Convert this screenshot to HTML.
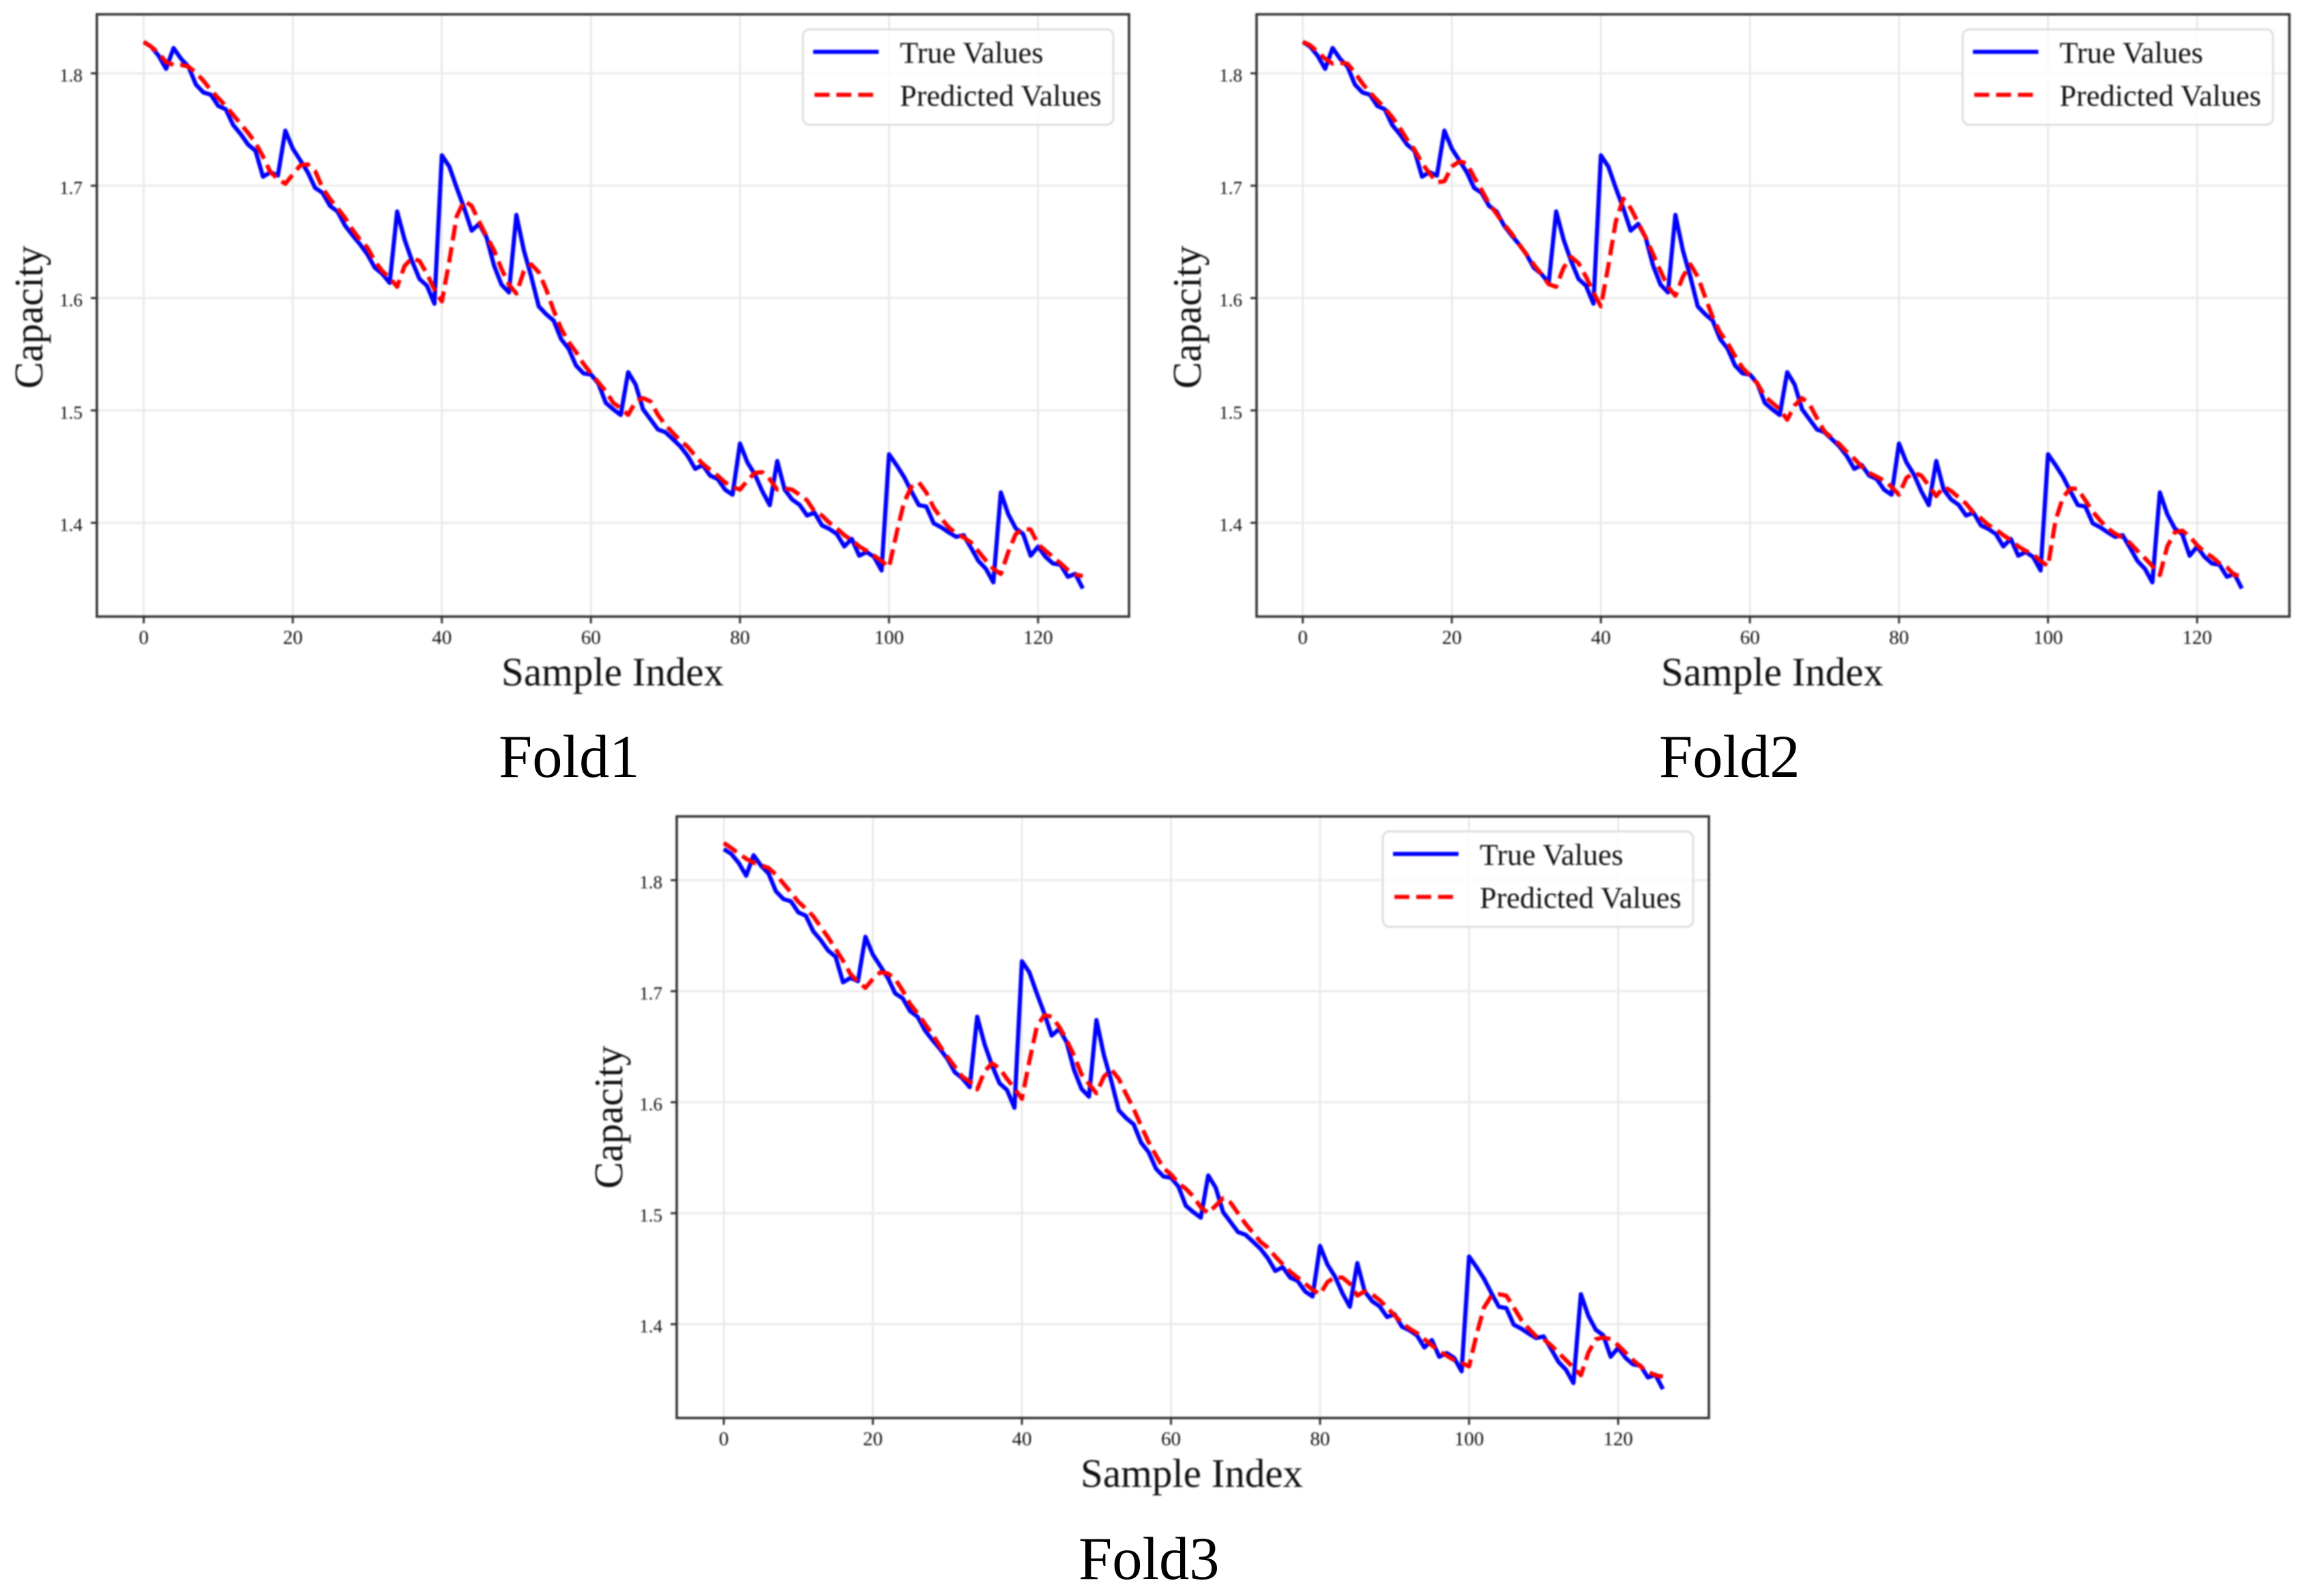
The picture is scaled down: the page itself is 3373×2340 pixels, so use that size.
<!DOCTYPE html>
<html lang="en">
<head>
<meta charset="utf-8">
<title>Capacity prediction by fold</title>
<style>
  html, body { margin: 0; padding: 0; background: #ffffff; }
  #figure { display: block; width: 3373px; height: 2340px; background: #ffffff; }
  text { font-family: "Liberation Serif", "Times New Roman", serif; fill: #111111; }
  .soft { filter: blur(1.1px); }
</style>
</head>
<body>
<svg id="figure" xmlns="http://www.w3.org/2000/svg" width="3373" height="2340" viewBox="0 0 3373 2340"></svg>
<script>
const xTickLabels = [0, 20, 40, 60, 80, 100, 120];
const yTickLabels = [1.4, 1.5, 1.6, 1.7, 1.8];

const trueValues = [
  1.828, 1.8237, 1.8156, 1.804, 1.8225, 1.813, 1.806, 1.790, 1.783, 1.781,
  1.771, 1.768, 1.754, 1.746, 1.7366, 1.731, 1.708, 1.712, 1.709, 1.749,
  1.733, 1.7226, 1.712, 1.698, 1.6936, 1.682, 1.677, 1.6646, 1.656, 1.648,
  1.639, 1.627, 1.6216, 1.6135, 1.677, 1.652, 1.633, 1.617, 1.611, 1.595,
  1.727, 1.717, 1.698, 1.680, 1.660, 1.666, 1.654, 1.629, 1.612, 1.605,
  1.674, 1.6425, 1.619, 1.5926, 1.5856, 1.580, 1.5635, 1.555, 1.540, 1.533,
  1.532, 1.524, 1.5067, 1.501, 1.496, 1.534, 1.523, 1.501, 1.492, 1.483,
  1.4806, 1.4744, 1.468, 1.4594, 1.448, 1.4514, 1.442, 1.439, 1.4295, 1.425,
  1.4705, 1.4537, 1.443, 1.428, 1.4157, 1.455, 1.4295, 1.4207, 1.416, 1.4065,
  1.409, 1.3977, 1.3945, 1.390, 1.379, 1.3857, 1.3707, 1.374, 1.3696, 1.3576,
  1.461, 1.4514, 1.441, 1.428, 1.4157, 1.4145, 1.3995, 1.396, 1.3915, 1.3875,
  1.389, 1.3777, 1.366, 1.359, 1.347, 1.427, 1.4076, 1.395, 1.390, 1.3707,
  1.3788, 1.3696, 1.3638, 1.3627, 1.352, 1.3545, 1.3415
];

const predictedFold1 = [
  1.828, 1.8237, 1.818, 1.810, 1.8075, 1.8075, 1.806, 1.8005, 1.7935, 1.785,
  1.778, 1.771, 1.763, 1.755, 1.747, 1.738, 1.726, 1.712, 1.706, 1.7017,
  1.710, 1.718, 1.719, 1.713, 1.698, 1.688, 1.680, 1.6715, 1.661, 1.652,
  1.645, 1.633, 1.624, 1.618, 1.610, 1.6286, 1.6355, 1.633, 1.6216, 1.6077,
  1.597, 1.633, 1.673, 1.6866, 1.682, 1.668, 1.655, 1.6425, 1.626, 1.612,
  1.604, 1.624, 1.630, 1.623, 1.6077, 1.589, 1.5728, 1.561, 1.552, 1.5415,
  1.533, 1.525, 1.517, 1.5067, 1.502, 1.496, 1.508, 1.511, 1.508, 1.496,
  1.487, 1.480, 1.473, 1.4675, 1.4594, 1.4525, 1.447, 1.442, 1.436, 1.432,
  1.4295, 1.4376, 1.4445, 1.445, 1.4387, 1.4295, 1.4306, 1.4295, 1.425, 1.420,
  1.410, 1.4065, 1.400, 1.395, 1.389, 1.3846, 1.379, 1.375, 1.3707, 1.366,
  1.3604, 1.3903, 1.418, 1.432, 1.436, 1.427, 1.4134, 1.404, 1.396, 1.3905,
  1.387, 1.3825, 1.3745, 1.3664, 1.359, 1.3544, 1.374, 1.390, 1.3945, 1.394,
  1.381, 1.375, 1.3696, 1.364, 1.358, 1.354, 1.3525
];

const predictedFold2 = [
  1.828, 1.825, 1.819, 1.813, 1.8086, 1.8093, 1.8086, 1.8005, 1.791, 1.783,
  1.776, 1.769, 1.761, 1.7517, 1.741, 1.732, 1.720, 1.711, 1.703, 1.704,
  1.717, 1.7215, 1.720, 1.7075, 1.696, 1.684, 1.675, 1.6657, 1.6576, 1.648,
  1.639, 1.6297, 1.6216, 1.6123, 1.610, 1.627, 1.6367, 1.631, 1.619, 1.605,
  1.5926, 1.6286, 1.668, 1.6885, 1.680, 1.667, 1.654, 1.639, 1.624, 1.610,
  1.602, 1.619, 1.630, 1.619, 1.6007, 1.583, 1.5693, 1.560, 1.5484, 1.538,
  1.531, 1.524, 1.5124, 1.5067, 1.501, 1.4917, 1.5044, 1.511, 1.5055, 1.493,
  1.4813, 1.4756, 1.470, 1.463, 1.457, 1.450, 1.4445, 1.441, 1.4376, 1.432,
  1.425, 1.440, 1.4445, 1.442, 1.433, 1.4237, 1.432, 1.4283, 1.4226, 1.417,
  1.409, 1.404, 1.398, 1.394, 1.389, 1.3846, 1.379, 1.375, 1.372, 1.366,
  1.3615, 1.402, 1.4226, 1.4306, 1.430, 1.420, 1.410, 1.402, 1.395, 1.3903,
  1.387, 1.382, 1.375, 1.3685, 1.3615, 1.3535, 1.379, 1.3915, 1.393, 1.388,
  1.380, 1.374, 1.3696, 1.364, 1.3604, 1.3535, 1.353
];

const predictedFold3 = [
  1.8335, 1.829, 1.824, 1.8193, 1.8158, 1.8134, 1.811, 1.805, 1.797, 1.789,
  1.7805, 1.7745, 1.7675, 1.758, 1.7485, 1.738, 1.7275, 1.7155, 1.7085, 1.703,
  1.711, 1.717, 1.716, 1.711, 1.7005, 1.6885, 1.680, 1.6705, 1.661, 1.6505,
  1.641, 1.632, 1.623, 1.6185, 1.6115, 1.628, 1.635, 1.6305, 1.621, 1.6125,
  1.603, 1.637, 1.668, 1.6785, 1.677, 1.668, 1.656, 1.642, 1.625, 1.6165,
  1.608, 1.623, 1.6295, 1.621, 1.607, 1.594, 1.5785, 1.564, 1.552, 1.5405,
  1.535, 1.527, 1.522, 1.515, 1.5054, 1.500, 1.5068, 1.5135, 1.5095, 1.500,
  1.4905, 1.4824, 1.4743, 1.469, 1.461, 1.454, 1.4473, 1.442, 1.4365, 1.431,
  1.427, 1.438, 1.4424, 1.442, 1.4365, 1.4257, 1.4297, 1.427, 1.4216, 1.415,
  1.408, 1.401, 1.396, 1.392, 1.3865, 1.381, 1.3757, 1.3716, 1.3676, 1.365,
  1.362, 1.3905, 1.415, 1.4257, 1.427, 1.4257, 1.415, 1.404, 1.396, 1.389,
  1.3865, 1.381, 1.3743, 1.3676, 1.361, 1.354, 1.3743, 1.3865, 1.388, 1.3865,
  1.381, 1.3743, 1.3676, 1.362, 1.357, 1.354, 1.3527
];

const SVG_NS = 'http://www.w3.org/2000/svg';
const figure = document.getElementById('figure');

function make(parent, tag, props, content) {
  const node = document.createElementNS(SVG_NS, tag);
  for (const key in props) {
    node.setAttribute(key, props[key]);
  }
  if (content !== undefined) {
    node.textContent = content;
  }
  parent.appendChild(node);
  return node;
}

function pointsFor(values, xScale, yScale) {
  return values.map(function (v, i) {
    return xScale(i).toFixed(2) + ',' + yScale(v).toFixed(2);
  }).join(' ');
}

function drawPanel(foldKey, predicted, box) {
  const xScale = function (v) { return box.x0 + v * box.xUnit; };
  const yScale = function (v) { return box.y18 + (1.8 - v) * box.yUnit; };

  const panel = make(figure, 'g', { 'class': 'soft' });
  
  

  const plotBackground = make(panel, 'rect', {
    x: box.left, y: box.top, width: box.right - box.left, height: box.bottom - box.top, fill: '#ffffff'
  });
  
  

  xTickLabels.forEach(function (t) {
    const gridX = make(panel, 'line', {
      x1: xScale(t), x2: xScale(t), y1: box.top, y2: box.bottom, stroke: '#e6e6e6', 'stroke-width': 2.5
    });
    
    
  });

  yTickLabels.forEach(function (t) {
    const gridY = make(panel, 'line', {
      x1: box.left, x2: box.right, y1: yScale(t), y2: yScale(t), stroke: '#ebebeb', 'stroke-width': 3
    });
    
    
  });

  const trueLine = make(panel, 'polyline', {
    points: pointsFor(trueValues, xScale, yScale),
    fill: 'none', stroke: '#0000ff', 'stroke-width': 6.2, 'stroke-linejoin': 'round'
  });
  
  

  const predictedLine = make(panel, 'polyline', {
    points: pointsFor(predicted, xScale, yScale),
    fill: 'none', stroke: '#ff0000', 'stroke-width': 6.2, 'stroke-dasharray': '23 10', 'stroke-linejoin': 'round'
  });
  
  

  const frame = make(panel, 'rect', {
    x: box.left, y: box.top, width: box.right - box.left, height: box.bottom - box.top,
    fill: 'none', stroke: '#333333', 'stroke-width': 3.5
  });
  
  

  xTickLabels.forEach(function (t) {
    const tick = make(panel, 'line', {
      x1: xScale(t), x2: xScale(t), y1: box.bottom, y2: box.bottom + 10, stroke: '#333333', 'stroke-width': 3
    });
    
    
    const label = make(panel, 'text', {
      x: xScale(t), y: box.bottom + 40, 'font-size': 29, 'text-anchor': 'middle'
    }, String(t));
    
    
  });

  yTickLabels.forEach(function (t) {
    const tick = make(panel, 'line', {
      x1: box.left - 9, x2: box.left, y1: yScale(t), y2: yScale(t), stroke: '#333333', 'stroke-width': 3
    });
    
    
    const label = make(panel, 'text', {
      x: box.left - 21, y: yScale(t) + 12, 'font-size': 27, 'text-anchor': 'end'
    }, t.toFixed(1));
    
    
  });

  const xTitle = make(panel, 'text', {
    x: box.xTitleX, y: box.bottom + 101, 'font-size': 59
  }, 'Sample Index');
  
  

  const yTitle = make(panel, 'text', {
    transform: 'translate(' + box.yTitleX + ' ' + box.yTitleY + ') rotate(-90)',
    'font-size': 59, 'text-anchor': 'middle'
  }, 'Capacity');
  
  

  const legend = make(panel, 'g', {});
  
  

  const legendBox = make(legend, 'rect', {
    x: box.legendX, y: box.top + 22, width: 455, height: 140, rx: 10, ry: 10,
    fill: 'rgba(255,255,255,0.8)', stroke: '#dedede', 'stroke-width': 3
  });
  
  

  const trueKey = make(legend, 'line', {
    x1: box.legendX + 15, x2: box.legendX + 111, y1: box.top + 55, y2: box.top + 55,
    stroke: '#0000ff', 'stroke-width': 6
  });
  
  

  const trueText = make(legend, 'text', {
    x: box.legendX + 142, y: box.top + 71, 'font-size': 44.3
  }, 'True Values');
  
  

  const predictedKey = make(legend, 'line', {
    x1: box.legendX + 17, x2: box.legendX + 103, y1: box.top + 118, y2: box.top + 118,
    stroke: '#ff0000', 'stroke-width': 6, 'stroke-dasharray': '22 10'
  });
  
  

  const predictedText = make(legend, 'text', {
    x: box.legendX + 142, y: box.top + 134, 'font-size': 44.3
  }, 'Predicted Values');
  
  

  const caption = make(figure, 'text', {
    x: box.captionX, y: box.captionY, 'font-size': 88.5, style: 'fill:#000000'
  }, box.caption);
  
  
}

drawPanel('fold1', predictedFold1, {
  left: 142, right: 1655, top: 21, bottom: 904,
  x0: 210.7, xUnit: 10.925, y18: 107.5, yUnit: 1647.5,
  xTitleX: 735, yTitleX: 62, yTitleY: 465, legendX: 1177,
  caption: 'Fold1', captionX: 731, captionY: 1139
});

drawPanel('fold2', predictedFold2, {
  left: 1842, right: 3356, top: 21, bottom: 904,
  x0: 1909.7, xUnit: 10.925, y18: 107.5, yUnit: 1647.5,
  xTitleX: 2435, yTitleX: 1760, yTitleY: 465, legendX: 2877,
  caption: 'Fold2', captionX: 2432, captionY: 1139
});

drawPanel('fold3', predictedFold3, {
  left: 992, right: 2505, top: 1197, bottom: 2079,
  x0: 1061, xUnit: 10.925, y18: 1290.5, yUnit: 1627.5,
  xTitleX: 1584, yTitleX: 912, yTitleY: 1638, legendX: 2027,
  caption: 'Fold3', captionX: 1581, captionY: 2315
});
</script>
</body>
</html>
